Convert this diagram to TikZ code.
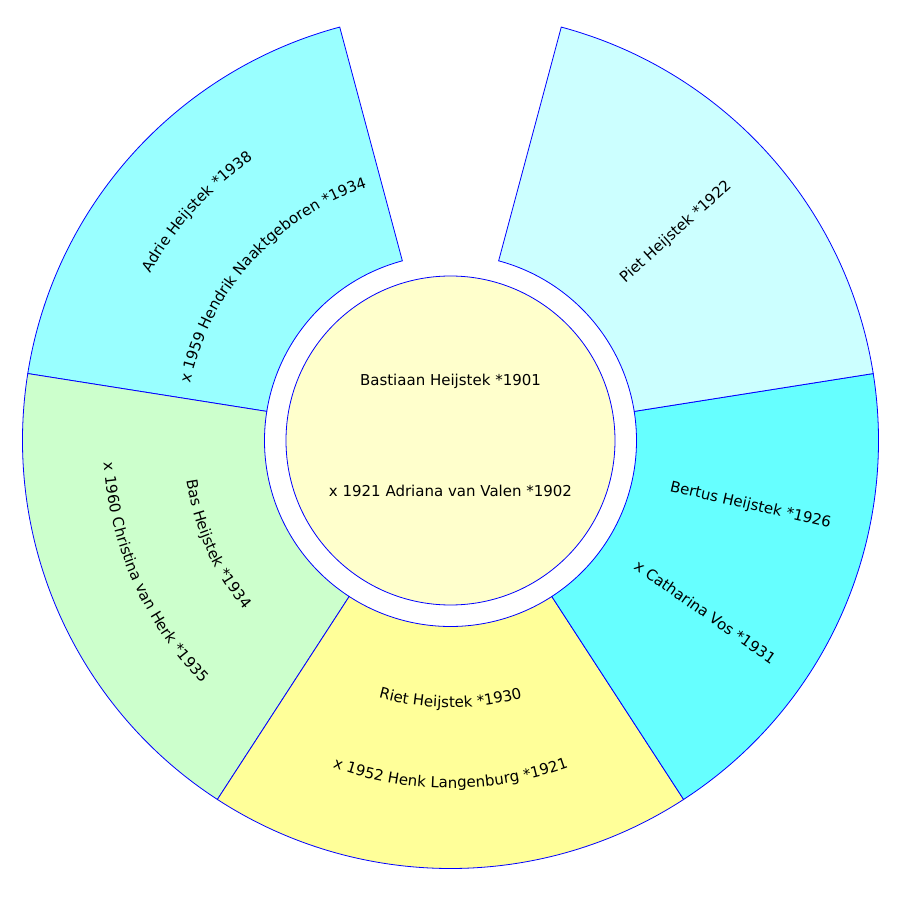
\documentclass[tikz,border=0pt]{standalone}
\usepackage{fontspec}
\setmainfont{DejaVu Sans}
\usetikzlibrary{decorations.text}
\definecolor{cA}{HTML}{99FFFF}
\definecolor{cP}{HTML}{CCFFFF}
\definecolor{cBe}{HTML}{66FFFF}
\definecolor{cR}{HTML}{FFFF99}
\definecolor{cBa}{HTML}{CCFFCC}
\definecolor{cC}{HTML}{FFFFCC}
\definecolor{edge}{HTML}{0000FF}
\newcommand{\fanfont}{\fontsize{15pt}{18pt}\selectfont}
\tikzset{
  sector/.style={draw=edge, line width=0.8pt},
  lbl/.style={font=\fanfont, inner sep=0pt, anchor=base, text=black},
}
\newcommand{\fanwedge}[3]{% start, end, colour
  \path[sector, fill=#3] (#1:186pt) arc[start angle=#1, end angle=#2, radius=186pt]
     -- (#2:428pt) arc[start angle=#2, end angle=#1, radius=428pt] -- cycle;}
\newcommand{\arctext}[4]{% from, to, radius, text
  \path[decorate, decoration={text along path, text align=center,
     text={|\fanfont|#4}}] (#1:#3) arc[start angle=#1, end angle=#2, radius=#3];}
\begin{document}
\begin{tikzpicture}
\useasboundingbox (-450.5pt,-458.5pt) rectangle (459.5pt,440.5pt);
\fill[white] (-450.5pt,-458.5pt) rectangle (459.5pt,440.5pt);
% sectors
\fanwedge{105}{171}{cA}
\fanwedge{171}{237}{cBa}
\fanwedge{237}{303}{cR}
\fanwedge{303}{369}{cBe}
\fanwedge{369}{435}{cP}
% centre
\node[circle, draw=edge, line width=0.8pt, fill=cC, minimum size=329pt, inner sep=0pt] (centre) at (0,0) {};
\node[lbl] (cname) at (0,54.5pt) {Bastiaan Heijstek *1901};
\node[lbl] (cspouse) at (0,-56pt) {x 1921 Adriana van Valen *1902};
% Adrie (clockwise, tops outward)
\arctext{171}{105}{343.5pt}{Adrie Heijstek *1938}
\arctext{171}{105}{266.5pt}{x 1959 Hendrik Naaktgeboren *1934}
% Bas (counter-clockwise, tops inward)
\arctext{171}{237}{267pt}{Bas Heijstek *1934}
\arctext{171}{237}{347.5pt}{x 1960 Christina van Herk *1935}
% Riet
\arctext{237}{303}{267pt}{Riet Heijstek *1930}
\arctext{237}{303}{347.5pt}{x 1952 Henk Langenburg *1921}
% Bertus (radial)
\node[lbl, rotate=-13] (bertus) at (-13:307pt) {Bertus Heijstek *1926};
\node[lbl, rotate=-35] (catharina) at (-35:307pt) {x Catharina Vos *1931};
% Piet (radial)
\node[lbl, rotate=42] (piet) at (42:307pt) {Piet Heijstek *1922};
\end{tikzpicture}
\end{document}
